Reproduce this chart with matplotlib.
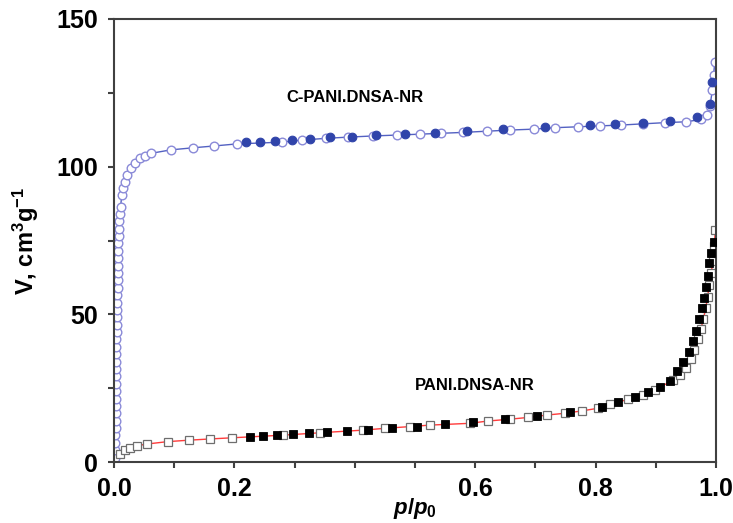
import matplotlib as mpl
import matplotlib.pyplot as plt

mpl.rcParams["font.family"] = ["Liberation Sans", "DejaVu Sans"]
mpl.rcParams["font.weight"] = "bold"
mpl.rcParams["mathtext.fontset"] = "custom"
mpl.rcParams["mathtext.rm"] = "Liberation Sans:bold"
mpl.rcParams["mathtext.bf"] = "Liberation Sans:bold"
mpl.rcParams["mathtext.it"] = "Liberation Sans:italic:bold"

# ── C-PANI.DNSA-NR: adsorption (open) / desorption (filled) ──
c_ads_p = [0.002, 0.002, 0.002, 0.002, 0.003, 0.003, 0.003, 0.003, 0.003, 0.003,
           0.003, 0.004, 0.004, 0.004, 0.004, 0.004, 0.004, 0.005, 0.005, 0.005,
           0.005, 0.005, 0.005, 0.006, 0.006, 0.006, 0.006, 0.007, 0.007, 0.007,
           0.008, 0.008, 0.009, 0.010, 0.011,
           0.013, 0.015, 0.018, 0.022, 0.028, 0.035, 0.043, 0.051, 0.061, 0.095,
           0.132, 0.166, 0.204, 0.279, 0.312, 0.353, 0.389, 0.431, 0.470, 0.508,
           0.544, 0.580, 0.619, 0.658, 0.697, 0.733, 0.771, 0.807, 0.843, 0.879,
           0.915, 0.951, 0.975, 0.985, 0.990, 0.994, 0.996, 0.998]
c_ads_v = [1.5, 4, 6.5, 9, 11.5, 14, 16.5, 19, 21.5, 24,
           26.5, 29, 31.5, 34, 36.5, 39, 41.5, 44, 46.5, 49,
           51.5, 54, 56.5, 59, 61.5, 64, 66.5, 69, 71.5, 74,
           76.5, 79, 81.5, 84, 86.5,
           90.4, 92.7, 94.9, 97.2, 99.5, 101.2, 102.8, 103.7, 104.5, 105.7,
           106.4, 107.0, 107.7, 108.3, 109.0, 109.6, 110.0, 110.4, 110.7, 111.0,
           111.3, 111.6, 112.0, 112.4, 112.7, 113.2, 113.5, 113.8, 114.1, 114.5,
           114.9, 115.2, 116.0, 117.5, 120.5, 126.0, 131.0, 135.5]
c_des_p = [0.994, 0.990, 0.968, 0.924, 0.878, 0.832, 0.791, 0.716, 0.647, 0.586,
           0.533, 0.483, 0.436, 0.395, 0.359, 0.326, 0.295, 0.267, 0.243, 0.220]
c_des_v = [128.8, 121.3, 116.9, 115.6, 114.9, 114.5, 114.1, 113.3, 112.7, 112.1,
           111.5, 111.1, 110.7, 110.2, 110.0, 109.4, 109.0, 108.7, 108.5, 108.3]

# ── PANI.DNSA-NR ──
p_ads_p = [0.010, 0.018, 0.026, 0.038, 0.055, 0.089, 0.125, 0.159, 0.196, 0.281,
           0.342, 0.414, 0.450, 0.492, 0.525, 0.591, 0.622, 0.658, 0.688, 0.719,
           0.749, 0.777, 0.804, 0.824, 0.854, 0.879, 0.899, 0.929, 0.940, 0.950,
           0.958, 0.964, 0.970, 0.975, 0.979, 0.983, 0.986, 0.989, 0.992, 0.995,
           0.997, 0.999]
p_ads_v = [2.8, 4.0, 4.8, 5.5, 6.1, 6.9, 7.4, 7.8, 8.2, 9.1,
           9.9, 10.8, 11.4, 12.0, 12.5, 13.1, 13.9, 14.5, 15.1, 15.9,
           16.5, 17.3, 18.2, 19.6, 21.2, 22.7, 24.4, 27.8, 29.5, 32.0,
           35.0, 38.0, 41.5, 45.0, 48.5, 52.0, 56.0, 60.0, 64.0, 68.0,
           73.0, 78.6]
p_des_p = [0.996, 0.992, 0.989, 0.986, 0.983, 0.980, 0.976, 0.972, 0.966, 0.961,
           0.955, 0.946, 0.936, 0.924, 0.907, 0.887, 0.865, 0.838, 0.810, 0.757,
           0.702, 0.650, 0.597, 0.550, 0.504, 0.461, 0.422, 0.387, 0.354, 0.324,
           0.297, 0.270, 0.248, 0.226]
p_des_v = [74.6, 70.7, 67.3, 63.0, 59.2, 55.4, 52.0, 48.4, 44.5, 41.1,
           37.4, 34.0, 30.8, 27.5, 25.5, 23.8, 21.9, 20.4, 18.7, 17.0,
           15.6, 14.5, 13.4, 12.8, 12.0, 11.4, 10.8, 10.5, 10.1, 9.7,
           9.5, 9.1, 8.8, 8.6]

x_ticks = [0.0, 0.1, 0.2, 0.3, 0.4, 0.5, 0.6, 0.7, 0.8, 0.9, 1.0]
x_labels = ["0.0", "", "0.2", "", "", "", "0.6", "", "0.8", "", "1.0"]
y_ticks = [0, 25, 50, 75, 100, 125, 150]
y_labels = ["0", "", "50", "", "100", "", "150"]

BLUE_LINE = "#5361c2"
BLUE_OPEN = "#8a8ad8"
BLUE_FILL = "#3044aa"
RED = "#ff3b3b"
SPINE = "#404040"

fig = plt.figure(figsize=(7.33, 5.23), dpi=100)
ax = fig.add_axes([0.1555, 0.1166, 0.8213, 0.8471])

# upper isotherm
ax.plot(c_ads_p, c_ads_v, color=BLUE_LINE, lw=1.0, zorder=1)
ax.plot(c_ads_p, c_ads_v, ls="none", marker="o", ms=6.2, mfc="white",
        mec=BLUE_OPEN, mew=1.0, zorder=2)
ax.plot(c_des_p, c_des_v, ls="none", marker="o", ms=6.2, mfc=BLUE_FILL,
        mec=BLUE_FILL, mew=0.8, zorder=3)

# lower isotherm
ax.plot(p_ads_p, p_ads_v, color=RED, lw=1.0, zorder=1)
ax.plot(p_ads_p, p_ads_v, ls="none", marker="s", ms=5.8, mfc="white",
        mec="#6e6e6e", mew=0.9, zorder=2)
ax.plot(p_des_p, p_des_v, ls="none", marker="s", ms=5.8, mfc="black",
        mec="black", mew=0.6, zorder=3)

ax.text(0.40, 123.5, "C-PANI.DNSA-NR", ha="center", va="center",
        fontsize=12, fontweight="bold")
ax.text(0.60, 26, "PANI.DNSA-NR", ha="center", va="center",
        fontsize=12, fontweight="bold")

ax.set_xlim(0, 1.0)
ax.set_ylim(0, 150)
ax.set_xticks(x_ticks)
ax.set_xticklabels(x_labels)
ax.set_yticks(y_ticks)
ax.set_yticklabels(y_labels)
ax.tick_params(axis="both", direction="out", length=4.5, width=1.5,
               color=SPINE, labelsize=18)
ax.tick_params(axis="x", pad=6)
ax.tick_params(axis="y", pad=7)
for lab in ax.get_xticklabels() + ax.get_yticklabels():
    lab.set_fontweight("bold")
for s in ax.spines.values():
    s.set_linewidth(1.5)
    s.set_color(SPINE)

ax.set_xlabel(r"$p/p_0$", fontsize=16, labelpad=-3)
ax.set_ylabel(r"V, cm$^{3}$g$^{-1}$", fontsize=17, fontweight="bold",
              labelpad=11)

fig.savefig("out.png", dpi=100, facecolor="white")
